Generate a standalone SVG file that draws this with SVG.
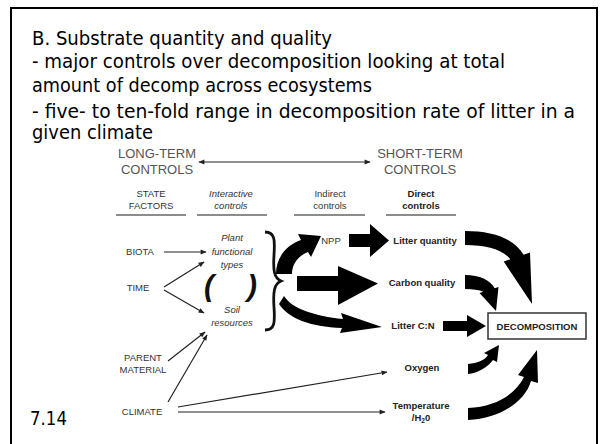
<svg xmlns="http://www.w3.org/2000/svg" width="600" height="444" viewBox="0 0 600 444">
<defs>
<style>
.hd{font-family:"DejaVu Sans","Liberation Sans",sans-serif;font-size:19px;fill:#000}
.lb{font-family:"Liberation Sans",Arial,sans-serif;font-size:9.5px;fill:#333;text-anchor:middle}
.tm{font-family:"Liberation Sans",Arial,sans-serif;font-size:13px;fill:#555;text-anchor:middle}
.it{font-style:italic}
.b{font-weight:bold;fill:#222}
.ul{stroke:#666;stroke-width:1.6}
.thin{stroke:#222;stroke-width:1.2;fill:none}
.fat{fill:#000}
</style>
<marker id="ah" viewBox="0 0 10 10" refX="9" refY="5" markerWidth="8" markerHeight="6" orient="auto" markerUnits="userSpaceOnUse">
<path d="M0,1 L10,5 L0,9 Z" fill="#222"/>
</marker>
<marker id="ahs" viewBox="0 0 10 10" refX="1" refY="5" markerWidth="8" markerHeight="6" orient="auto" markerUnits="userSpaceOnUse">
<path d="M10,1 L0,5 L10,9 Z" fill="#222"/>
</marker>
</defs>
<rect width="600" height="444" fill="#fff"/>
<path d="M11,444 L11,8 L597,8 L597,444" fill="none" stroke="#000" stroke-width="2"/>

<g id="title">
<text class="hd" x="32" y="45" textLength="300" lengthAdjust="spacingAndGlyphs">B. Substrate quantity and quality</text>
<text class="hd" x="32" y="68" textLength="473" lengthAdjust="spacingAndGlyphs">- major controls over decomposition looking at total</text>
<text class="hd" x="32" y="92" textLength="340" lengthAdjust="spacingAndGlyphs">amount of decomp across ecosystems</text>
<text class="hd" x="32" y="118" textLength="543" lengthAdjust="spacingAndGlyphs">- five- to ten-fold range in decomposition rate of litter in a</text>
<text class="hd" x="32" y="139" textLength="121" lengthAdjust="spacingAndGlyphs">given climate</text>
<text class="hd" x="30" y="425" textLength="37" lengthAdjust="spacingAndGlyphs">7.14</text>
</g>

<g id="timescale">
<text class="tm" x="157" y="158">LONG-TERM</text>
<text class="tm" x="157" y="174">CONTROLS</text>
<text class="tm" x="420" y="158">SHORT-TERM</text>
<text class="tm" x="420" y="174">CONTROLS</text>
</g>

<g id="headers">
<text class="lb" x="151" y="197">STATE</text>
<text class="lb" x="151" y="209">FACTORS</text>
<line class="ul" x1="116" y1="215" x2="186" y2="215"/>
<text class="lb it" x="231" y="197">Interactive</text>
<text class="lb it" x="231" y="209">controls</text>
<line class="ul" x1="197" y1="215" x2="267" y2="215"/>
<text class="lb" x="330" y="197">Indirect</text>
<text class="lb" x="330" y="209">controls</text>
<line class="ul" x1="294" y1="215" x2="365" y2="215"/>
<text class="lb b" x="421" y="197">Direct</text>
<text class="lb b" x="421" y="209">controls</text>
<line class="ul" x1="386" y1="215" x2="456" y2="215"/>
</g>

<g id="biota"><text class="lb" x="140" y="255">BIOTA</text></g>
<g id="time"><text class="lb" x="138" y="291">TIME</text></g>
<g id="parent"><text class="lb" x="143" y="361">PARENT</text><text class="lb" x="143" y="373">MATERIAL</text></g>
<g id="climate"><text class="lb" x="142" y="415">CLIMATE</text></g>
<g id="plant"><text class="lb it" x="232" y="241">Plant</text><text class="lb it" x="232" y="255">functional</text><text class="lb it" x="232" y="268">types</text></g>
<g id="soil"><text class="lb it" x="232" y="313">Soil</text><text class="lb it" x="232" y="326">resources</text></g>
<g id="delims">
<text x="209" y="296" font-family="Liberation Sans,Arial,sans-serif" font-size="30" font-weight="bold" font-style="italic" text-anchor="middle" fill="#111">(</text>
<text x="252" y="296" font-family="Liberation Sans,Arial,sans-serif" font-size="30" font-weight="bold" font-style="italic" text-anchor="middle" fill="#111">)</text>
<path d="M265,232 C275,232 275,240 274,255 C273,270 274,278 281,281 C274,284 273,292 274,307 C275,322 275,330 265,330" fill="none" stroke="#111" stroke-width="2.8"/>
</g>
<g id="npp"><text class="lb" x="331" y="244">NPP</text></g>
<g id="litterq"><text class="lb b" x="425" y="244">Litter quantity</text></g>
<g id="carbon"><text class="lb b" x="422" y="286">Carbon quality</text></g>
<g id="littercn"><text class="lb b" x="413" y="329">Litter C:N</text></g>
<g id="oxygen"><text class="lb b" x="422" y="371">Oxygen</text></g>
<g id="temp"><text class="lb b" x="421" y="409">Temperature</text><text class="lb b" x="421" y="421">/H<tspan font-size="6.5" dy="2">2</tspan><tspan dy="-2">0</tspan></text></g>
<g id="decomp">
<rect x="488" y="313" width="98" height="26" fill="#fff" stroke="#333" stroke-width="1.5"/>
<text class="lb b" x="537" y="329.5" font-size="9">DECOMPOSITION</text>
</g>

<g id="connectors">
<line class="thin" x1="199" y1="162" x2="370" y2="162" stroke="#444" marker-start="url(#ahs)" marker-end="url(#ah)"/>
<line class="thin" x1="164" y1="252" x2="206" y2="252" marker-end="url(#ah)"/>
<line class="thin" x1="164" y1="287" x2="204" y2="262" marker-end="url(#ah)"/>
<line class="thin" x1="164" y1="290" x2="204" y2="313" marker-end="url(#ah)"/>
<line class="thin" x1="168" y1="361" x2="205" y2="332" marker-end="url(#ah)"/>
<line class="thin" x1="168" y1="402" x2="207" y2="335" marker-end="url(#ah)"/>
<line class="thin" x1="178" y1="407" x2="387" y2="372" marker-end="url(#ah)"/>
<line class="thin" x1="178" y1="412" x2="385" y2="412" stroke-width="1.8" marker-end="url(#ah)"/>
<path class="fat" d="M349,234 L370,234 L370,224 L389,240.5 L370,257 L370,247 L349,247 Z"/>
<path class="fat" d="M297,276 L338,276 L338,266 L378,283.5 L338,305 L338,291 L297,291 Z"/>
<path class="fat" d="M443,321 L467,321 L467,315 L486,326 L467,337 L467,331 L443,331 Z"/>
<path class="fat" d="M276,274 C276,258 286,245 301,240 L298,234 L321,236 L311,257 L308,252 C298,256 292,264 292,274 Z"/>
<path class="fat" d="M284,296 C292,309 315,316 343,319 L341,313 L382,327 L340,333 L342,328 C310,327 288,318 279,304 Z"/>
<path class="fat" d="M465,231 C492,231 514,238 523.6,254.8 L530,252.5 L532,304 L503.7,261.5 L510.4,259.2 C503,250 487,245 465,245 Z"/>
<path class="fat" d="M465,275 C480,275 490,280 494.7,288.2 L498.5,287 L496,311 L479.5,293 L483.3,291.8 C479,290 473,289 465,289 Z"/>
<path class="fat" d="M468,364 C478,363 485,360 488,355 L484,353 L499,345 L497,362 L493,360 C488,367 478,373 468,374 Z"/>
<path class="fat" d="M468,420 C500,418 525,402 531,381 L538,383 L537,350 L518,375 L524,377 C515,395 495,407 468,408 Z"/>
</g>
</svg>
